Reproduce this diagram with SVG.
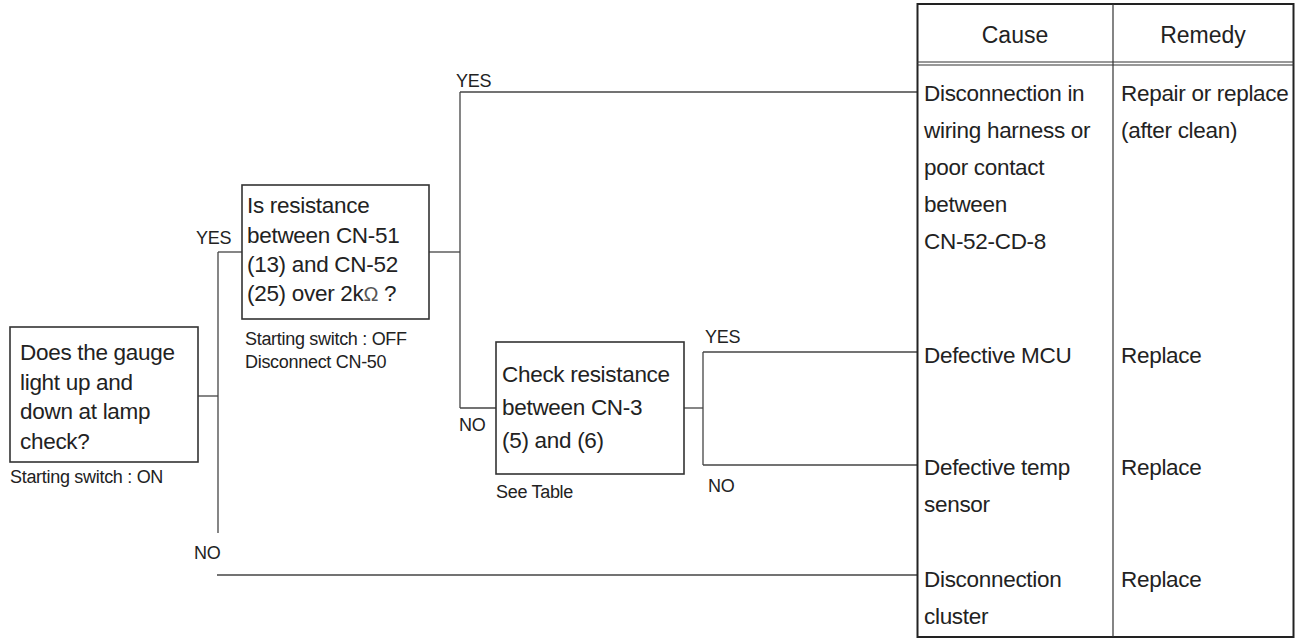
<svg xmlns="http://www.w3.org/2000/svg" width="1302" height="640" viewBox="0 0 1302 640">
<style>
.box{fill:#fff;stroke:#333;stroke-width:1.6}
.ln{fill:none;stroke:#444;stroke-width:1.3}
.t{font-family:"Liberation Sans",Arial,sans-serif;font-size:22.5px;fill:#222;letter-spacing:-0.3px}
.s{font-family:"Liberation Sans",Arial,sans-serif;font-size:18px;fill:#222;letter-spacing:-0.3px}
.h{font-family:"Liberation Sans",Arial,sans-serif;font-size:23px;fill:#222;text-anchor:middle}
.tb{fill:none;stroke:#222;stroke-width:2}
.tl{fill:none;stroke:#333;stroke-width:1.2}
</style>
<rect width="1302" height="640" fill="#fff"/>
<g id="connectors">
<path class="ln" d="M198,396 H218"/>
<path class="ln" d="M218,252 V533"/>
<path class="ln" d="M218,252 H242"/>
<path class="ln" d="M217,575 H917"/>
<path class="ln" d="M429,252 H460"/>
<path class="ln" d="M460,92 V408"/>
<path class="ln" d="M460,92 H917"/>
<path class="ln" d="M460,408 H496"/>
<path class="ln" d="M684,408 H703"/>
<path class="ln" d="M703,352 V465"/>
<path class="ln" d="M703,352 H917"/>
<path class="ln" d="M703,465 H917"/>
<text class="s" x="196" y="244">YES</text>
<text class="s" x="194" y="559">NO</text>
<text class="s" x="456" y="87">YES</text>
<text class="s" x="459" y="431">NO</text>
<text class="s" x="705" y="343">YES</text>
<text class="s" x="708" y="492">NO</text>
</g>
<g id="node1">
<rect class="box" x="10" y="327" width="188" height="135"/>
<text class="t" x="20" y="360">Does the gauge</text>
<text class="t" x="20" y="389.5">light up and</text>
<text class="t" x="20" y="419">down at lamp</text>
<text class="t" x="20" y="448.5">check?</text>
<text class="s" x="10" y="483">Starting switch : ON</text>
</g>
<g id="node2">
<rect class="box" x="242" y="185" width="187" height="134"/>
<text class="t" x="247" y="213">Is resistance</text>
<text class="t" x="247" y="243">between CN-51</text>
<text class="t" x="247" y="272">(13) and CN-52</text>
<text class="t" x="247" y="301">(25) over 2k<tspan font-size="20" fill="#555">Ω</tspan> ?</text>
<text class="s" x="245" y="345">Starting switch : OFF</text>
<text class="s" x="245" y="368">Disconnect CN-50</text>
</g>
<g id="node3">
<rect class="box" x="496" y="342" width="188" height="132"/>
<text class="t" x="502" y="382">Check resistance</text>
<text class="t" x="502" y="415">between CN-3</text>
<text class="t" x="502" y="448">(5) and (6)</text>
<text class="s" x="496" y="498">See Table</text>
</g>
<g id="table">
<rect class="tb" x="917.5" y="4" width="376" height="633"/>
<path class="tl" d="M917,62 H1294 M917,65 H1294"/>
<path class="tl" d="M1113,4 V637"/>
<text class="h" x="1015" y="43">Cause</text>
<text class="h" x="1203" y="43">Remedy</text>
<text class="t" x="924" y="101">Disconnection in</text>
<text class="t" x="924" y="138">wiring harness or</text>
<text class="t" x="924" y="175">poor contact</text>
<text class="t" x="924" y="212">between</text>
<text class="t" x="924" y="249">CN-52-CD-8</text>
<text class="t" x="1121" y="101">Repair or replace</text>
<text class="t" x="1121" y="138">(after clean)</text>
<text class="t" x="924" y="363">Defective MCU</text>
<text class="t" x="1121" y="363">Replace</text>
<text class="t" x="924" y="475">Defective temp</text>
<text class="t" x="924" y="512">sensor</text>
<text class="t" x="1121" y="475">Replace</text>
<text class="t" x="924" y="587">Disconnection</text>
<text class="t" x="924" y="624">cluster</text>
<text class="t" x="1121" y="587">Replace</text>
</g>
</svg>
